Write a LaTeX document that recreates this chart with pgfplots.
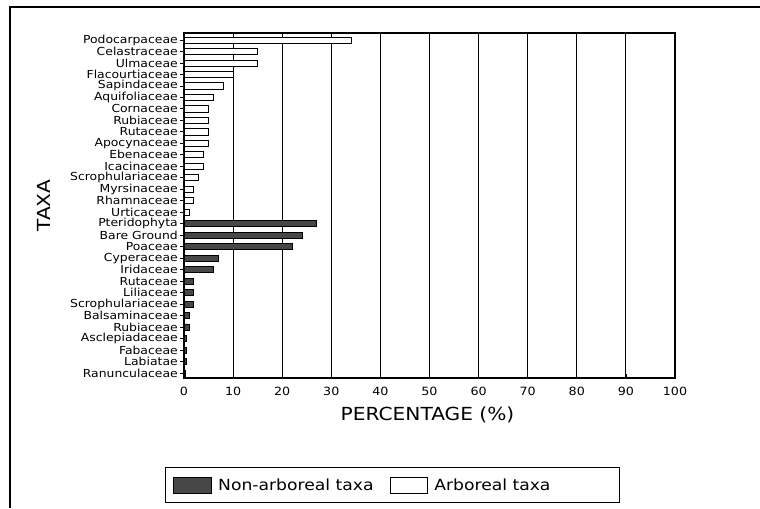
\documentclass[border=0pt]{standalone}
\usepackage{fontspec}
\setmainfont{DejaVu Sans}[FakeStretch=1.12]
\usepackage{pgfplots}
\pgfplotsset{compat=1.18}
\begin{document}
\begin{tikzpicture}
\path[use as bounding box] (0,0) rectangle (570pt,381pt);
\draw[line width=1.4pt] (7.5pt,0pt) -- (7.5pt,375.5pt) -- (570pt,375.5pt);
\begin{axis}[
  at={(138pt,97.5pt)}, anchor=south west,
  scale only axis, width=368.25pt, height=258.75pt,
  xbar, bar width=4.6pt, bar shift=0pt,
  xmin=0, xmax=100,
  ymin=-0.61, ymax=29.44, y dir=reverse,
  xtick={0,10,...,100},
  ytick={0,...,29},
  yticklabels={Podocarpaceae,Celastraceae,Ulmaceae,Flacourtiaceae,Sapindaceae,Aquifoliaceae,Cornaceae,Rubiaceae,Rutaceae,Apocynaceae,Ebenaceae,Icacinaceae,Scrophulariaceae,Myrsinaceae,Rhamnaceae,Urticaceae,Pteridophyta,Bare Ground,Poaceae,Cyperaceae,Iridaceae,Rutaceae,Liliaceae,Scrophulariaceae,Balsaminaceae,Rubiaceae,Asclepiadaceae,Fabaceae,Labiatae,Ranunculaceae},
  xmajorgrids, major grid style={black, line width=0.8pt},
  axis line style={line width=0.8pt},
  y tick style={black, line width=0.6pt},
  x tick style={black, line width=0.6pt},
  ytick align=outside, ytick pos=left, major tick length=3pt,
  xtick pos=bottom,
  /pgf/number format/assume math mode=true,
  yticklabel style={font=\fontsize{8.3}{8.3}\selectfont, inner sep=1.5pt},
  xticklabel style={font=\fontsize{8.5}{9}\selectfont, yshift=-3.5pt},
  xlabel={PERCENTAGE (\%)},
  ylabel={TAXA},
  xlabel style={at={(axis description cs:0.496,-0.108)}, anchor=center, font=\fontsize{13.5}{15}\selectfont},
  ylabel style={at={(axis description cs:-0.285,0.5)}, anchor=center, font=\fontsize{13.5}{15}\selectfont},
  legend image code/.code={\draw[#1,line width=0.6pt] (0pt,-6pt) rectangle (28pt,6pt);},
  legend columns=2,
  legend style={at={(axis description cs:-0.039,-0.259)}, anchor=north west,
    draw=black, line width=0.8pt, inner xsep=6pt, inner ysep=6pt,
    font=\fontsize{11.5}{13}\selectfont, cells={anchor=west},
    /tikz/every odd column/.append style={column sep=3pt},
    /tikz/every even column/.append style={column sep=10pt}},
]
\addplot[draw=black, fill=black!72, line width=0.5pt] coordinates {
 (27,16) (24,17) (22,18) (7,19) (6,20) (2,21) (2,22) (2,23) (1,24) (1,25) (0.5,26) (0.5,27) (0.5,28) (0.3,29)};
\addlegendentry{Non-arboreal taxa}
\addplot[draw=black, fill=white, line width=0.6pt] coordinates {
 (34,0) (15,1) (15,2) (10,3) (8,4) (6,5) (5,6) (5,7) (5,8) (5,9) (4,10) (4,11) (3,12) (2,13) (2,14) (1,15)};
\addlegendentry{Arboreal taxa\hspace*{44pt}\null}
\end{axis}
\end{tikzpicture}
\end{document}
